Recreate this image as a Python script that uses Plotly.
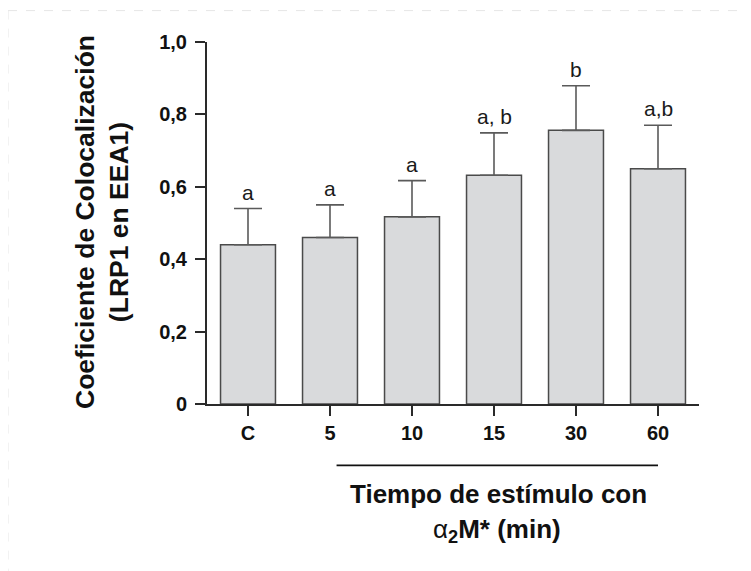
import plotly.graph_objects as go

categories = ["C", "5", "10", "15", "30", "60"]
means = [0.44, 0.46, 0.517, 0.632, 0.756, 0.65]
errors = [0.10, 0.09, 0.10, 0.117, 0.123, 0.12]
letters = ["a", "a", "a", "a, b", "b", "a,b"]
ytick_vals = [0, 0.2, 0.4, 0.6, 0.8, 1.0]
ytick_text = ["0", "0,2", "0,4", "0,6", "0,8", "1,0"]

FONT = "Liberation Sans, Arial, sans-serif"
W, H = 751, 571
OFF = 8  # page body margin offset of the figure in the screenshot
ML = 207 - OFF
MT = 41.5 - OFF
MR = W - (699 - OFF)
MB = H - (404.5 - OFF)
pw = W - ML - MR
ph = H - MT - MB

def sx(px):  # screenshot x -> paper x
    return (px - OFF - ML) / pw

def sy(py):  # screenshot y -> paper y
    return (H - MB - (py - OFF)) / ph

fig = go.Figure()
fig.add_trace(go.Bar(
    x=categories,
    y=means,
    width=0.67,
    marker=dict(color="#d9dadc", line=dict(color="#4a4a4a", width=1.5)),
    error_y=dict(type="data", array=errors, arrayminus=[0] * len(errors),
                 symmetric=False, color="#5a5a5a", thickness=1.6, width=14),
    showlegend=False,
    hoverinfo="skip",
))

for i, (m, e, t) in enumerate(zip(means, errors, letters)):
    fig.add_annotation(x=i, y=m + e, text=t, showarrow=False,
                       xref="x", yref="y",
                       yanchor="bottom", yshift=3,
                       font=dict(family=FONT, size=21, color="#1a1a1a"))

# y-axis title
fig.add_annotation(xref="paper", yref="paper",
                   x=sx(102), y=sy(222),
                   text="<b>Coeficiente de Colocalización</b><br><b>(LRP1 en EEA1)</b>",
                   textangle=-90, showarrow=False, xanchor="center", yanchor="middle",
                   font=dict(family=FONT, size=26.5, color="#111111"))

# x-axis title (two lines)
fig.add_annotation(xref="paper", yref="paper",
                   x=sx(498), y=sy(495),
                   text="<b>Tiempo de estímulo con</b>", showarrow=False,
                   xanchor="center", yanchor="middle",
                   font=dict(family=FONT, size=26, color="#111111"))
fig.add_annotation(xref="paper", yref="paper",
                   x=sx(497), y=sy(531),
                   text="α<sub><b>2</b></sub><b>M* (min)</b>", showarrow=False,
                   xanchor="center", yanchor="middle",
                   font=dict(family=FONT, size=26, color="#111111"))

# bracket line under stimulus times
fig.add_shape(type="line", xref="x", yref="paper",
              x0=1.08, x1=5.0, y0=sy(466), y1=sy(466),
              line=dict(color="#111111", width=1.6))

# faint dashed frame
fig.add_shape(type="line", xref="paper", yref="paper",
              x0=sx(8), x1=sx(760),
              y0=sy(10), y1=sy(10),
              line=dict(color="#e6e6e6", width=1, dash="dash"))
fig.add_shape(type="line", xref="paper", yref="paper",
              x0=sx(8), x1=sx(8),
              y0=sy(10), y1=sy(580),
              line=dict(color="#e6e6e6", width=1, dash="dash"))

fig.update_layout(
    width=W, height=H,
    margin=dict(l=ML, r=MR, t=MT, b=MB, pad=0),
    plot_bgcolor="white", paper_bgcolor="white",
    bargap=0.33,
    font=dict(family=FONT, color="#111111"),
    xaxis=dict(
        type="category", range=[-0.5, 5.5],
        showline=True, linecolor="#2a2a2a", linewidth=2,
        ticks="outside", ticklen=10, tickwidth=2, tickcolor="#2a2a2a",
        tickfont=dict(family=FONT, size=20, color="#111111", weight="bold"),
        showgrid=False, zeroline=False, fixedrange=True,
    ),
    yaxis=dict(
        range=[0, 1.0],
        tickvals=ytick_vals, ticktext=ytick_text,
        showline=True, linecolor="#2a2a2a", linewidth=2,
        ticks="outside", ticklen=10, tickwidth=2, tickcolor="#2a2a2a",
        ticklabelstandoff=4,
        tickfont=dict(family=FONT, size=20, color="#111111", weight="bold"),
        showgrid=False, zeroline=False, fixedrange=True,
    ),
)

fig.write_html("out.html")
